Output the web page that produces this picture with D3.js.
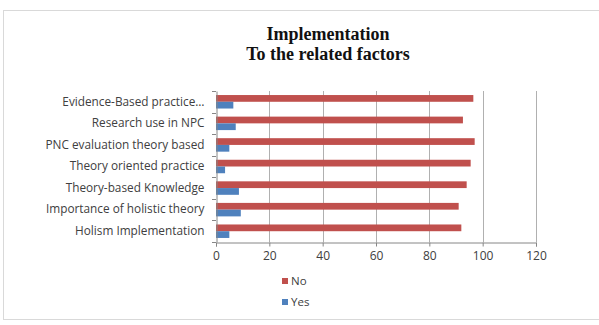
<!DOCTYPE html>
<html><head><meta charset="utf-8">
<script src="https://cdn.jsdelivr.net/npm/d3@7"></script>
<style>body{margin:0;background:#fff}svg{display:block}</style>
</head><body>
<svg id="c" width="599" height="325"></svg>
<script>
const categories = ["Evidence-Based practice…","Research use in NPC","PNC evaluation theory based","Theory oriented practice","Theory-based Knowledge","Importance of holistic theory","Holism Implementation"];
const seriesNames = ["No","Yes"];
const noValues = [96.5, 92.6, 97, 95.5, 94, 91, 92];
const yesValues = [6.5, 7.4, 5, 3.4, 8.6, 9.3, 5];
const xTicks = [0,20,40,60,80,100,120];
const titleLines = ["Implementation","To the related factors"];
const colors = {No:"#C0504D", Yes:"#4F81BD"};

const svg = d3.select("#c");
const m = {l:216, r:536, t:91, b:242};
svg.append("rect").attr("x",3.5).attr("y",10.5).attr("width",620).attr("height",309)
  .attr("fill","#fff").attr("stroke","#d9d9d9");

const x = d3.scaleLinear().domain([0,120]).range([m.l,m.r]);
const y = d3.scaleBand().domain(categories).range([m.t,m.b]);
const ys = d3.scaleBand().domain(seriesNames).range([0,y.bandwidth()]).paddingInner(0).paddingOuter(0.6);

// gridlines
svg.append("g").selectAll("line").data(xTicks.slice(1)).join("line")
  .attr("x1",d=>Math.round(x(d))+0.5).attr("x2",d=>Math.round(x(d))+0.5)
  .attr("y1",m.t).attr("y2",m.b).attr("stroke","#b0b0b0");

const data = categories.map((c,i)=>({c, No:noValues[i], Yes:yesValues[i]}));
const g = svg.append("g");
seriesNames.forEach(s=>{
  g.selectAll("rect."+s).data(data).join("rect").attr("class",s)
   .attr("x",x(0)).attr("y",d=>y(d.c)+ys(s)).attr("height",ys.bandwidth())
   .attr("width",d=>x(d[s])-x(0)).attr("fill",colors[s]);
});

// y axis
const ya = svg.append("g").attr("transform",`translate(${Math.round(m.l)+0.5},0)`)
  .call(d3.axisLeft(y).tickSize(0).tickPadding(12));
ya.select(".domain").attr("stroke","#868686");
ya.selectAll("text").attr("font-family","'Open Sans',sans-serif").attr("font-size",11.8).attr("fill","#404040");
// category separator ticks
svg.append("g").selectAll("line").data(d3.range(categories.length+1)).join("line")
  .attr("x1",m.l-4).attr("x2",m.l).attr("y1",i=>Math.round(m.t+i*y.step())+0.5).attr("y2",i=>Math.round(m.t+i*y.step())+0.5)
  .attr("stroke","#868686");

// x axis
const xa = svg.append("g").attr("transform",`translate(0,${m.b+0.5})`)
  .call(d3.axisBottom(x).tickValues(xTicks).tickSize(4).tickPadding(5));
xa.select(".domain").attr("stroke","#868686");
xa.selectAll("line").attr("stroke","#868686");
xa.selectAll("text").attr("font-family","'Open Sans',sans-serif").attr("font-size",12).attr("fill","#404040");

// title
svg.append("g").selectAll("text").data(titleLines).join("text")
  .attr("x",328).attr("y",(d,i)=>40+i*20).attr("text-anchor","middle")
  .attr("font-family","'Liberation Serif',serif").attr("font-weight","bold").attr("font-size",18)
  .attr("fill","#111").text(d=>d);

// legend
const lg = svg.append("g").selectAll("g").data(seriesNames).join("g")
  .attr("transform",(d,i)=>`translate(282,${281+i*21})`);
lg.append("rect").attr("x",0).attr("y",-3).attr("width",6).attr("height",6).attr("fill",d=>colors[d]);
lg.append("text").attr("x",9).attr("dy","0.35em").attr("font-family","'Open Sans',sans-serif")
  .attr("font-size",11.5).attr("fill","#404040").text(d=>d);
</script>
</body></html>
